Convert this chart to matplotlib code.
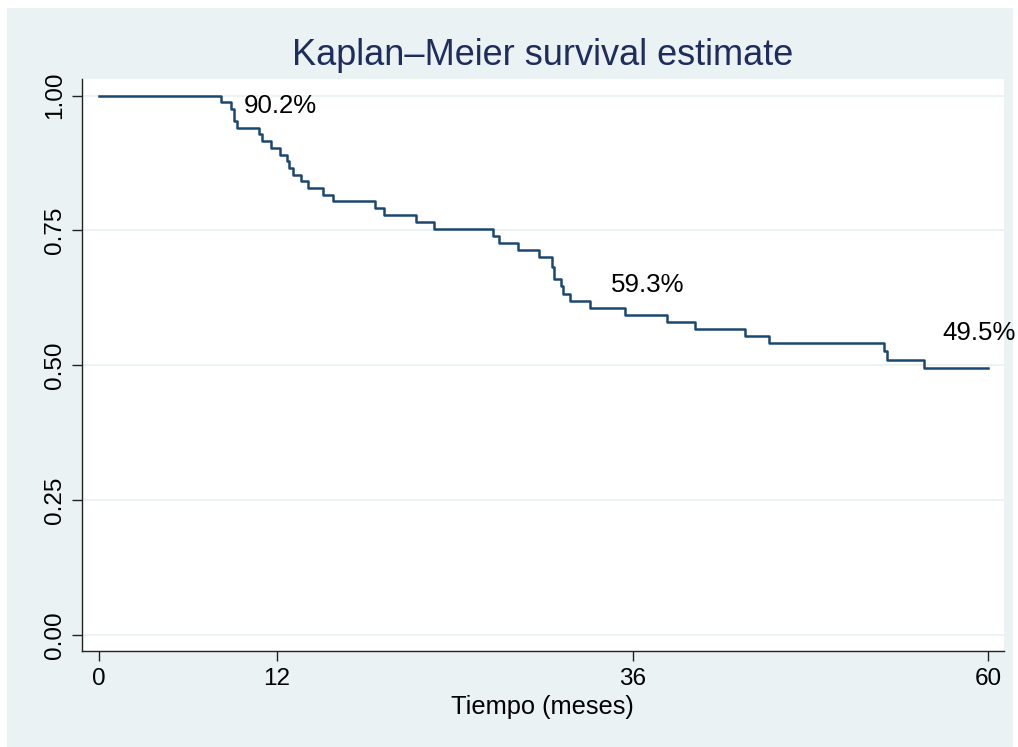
import matplotlib
matplotlib.use("Agg")
import matplotlib.pyplot as plt
from matplotlib.patches import Rectangle

plt.rcParams['font.family'] = ['Liberation Sans', 'DejaVu Sans']

# Kaplan-Meier steps (months, survival after the drop)
tiempo = [0, 8.2, 8.9, 9.1, 9.3, 10.8, 11.0, 11.6, 12.2, 12.7, 12.8, 13.1, 13.6,
          14.1, 15.1, 15.8, 18.6, 19.2, 21.4, 22.6, 26.6, 27.0, 28.3, 29.7,
          30.6, 30.7, 31.2, 31.3, 31.8, 33.1, 35.5, 38.3, 40.2, 43.6, 45.2,
          53.0, 53.2, 55.7, 60]
supervivencia = [1.0, 0.988, 0.975, 0.952, 0.939, 0.928, 0.915, 0.903, 0.890,
                 0.878, 0.866, 0.853, 0.841, 0.829, 0.815, 0.804, 0.792, 0.779,
                 0.766, 0.752, 0.739, 0.726, 0.713, 0.700, 0.683, 0.660, 0.646,
                 0.632, 0.620, 0.607, 0.593, 0.581, 0.568, 0.555, 0.541, 0.526,
                 0.510, 0.495, 0.495]

# labels at 12, 36 and 60 months
etiquetas = ["90.2%", "59.3%", "49.5%"]
etiqueta_x = [9.74, 34.53, 56.92]
etiqueta_y = [0.967, 0.636, 0.547]

x_ticks = [0, 12, 36, 60]
y_ticks = [0.0, 0.25, 0.5, 0.75, 1.0]

bg = "#EAF2F3"
navy = "#1A476F"

fig = plt.figure(figsize=(10.18, 7.47), dpi=100)
fig.patch.set_facecolor("white")
fig.patches.append(Rectangle((7 / 1018, 0), 1006 / 1018, 1 - 8 / 747,
                             transform=fig.transFigure, facecolor=bg,
                             edgecolor="none", zorder=-10))

ax = fig.add_axes([81.7 / 1018, 1 - 651 / 747, (1004 - 81.7) / 1018, (651 - 79) / 747])
ax.set_zorder(1)
ax.set_facecolor("white")

ax.step(tiempo, supervivencia, where="post", color=navy, lw=1.8, zorder=3)

for txt, tx, ty in zip(etiquetas, etiqueta_x, etiqueta_y):
    ax.text(tx, ty, txt, fontsize=18.6, va="baseline", ha="left", clip_on=False)

ax.set_xlim(-1.17, 61.07)
ax.set_ylim(-0.0297, 1.0306)
ax.set_xticks(x_ticks)
ax.set_yticks(y_ticks)
ax.set_yticklabels(["%.2f" % v for v in y_ticks], rotation=90, va="center")
ax.tick_params(axis="both", direction="out", length=7.5, width=1, labelsize=17.5,
               color="#222222")
ax.tick_params(axis="y", pad=4)
ax.tick_params(axis="x", pad=5)

ax.grid(axis="y", color=bg, lw=1.3)
ax.set_axisbelow(True)
for s in ["top", "right"]:
    ax.spines[s].set_visible(False)
for s in ["left", "bottom"]:
    ax.spines[s].set_color("#222222")
    ax.spines[s].set_linewidth(1)

ax.set_xlabel("Tiempo (meses)", fontsize=18.3, labelpad=3)
ax.text(0.5, 1.0245, "Kaplan\u2013Meier survival estimate", transform=ax.transAxes,
        ha="center", va="baseline", fontsize=26, color="#1E2D5C")

fig.savefig("out.png", dpi=100, facecolor=fig.get_facecolor())
